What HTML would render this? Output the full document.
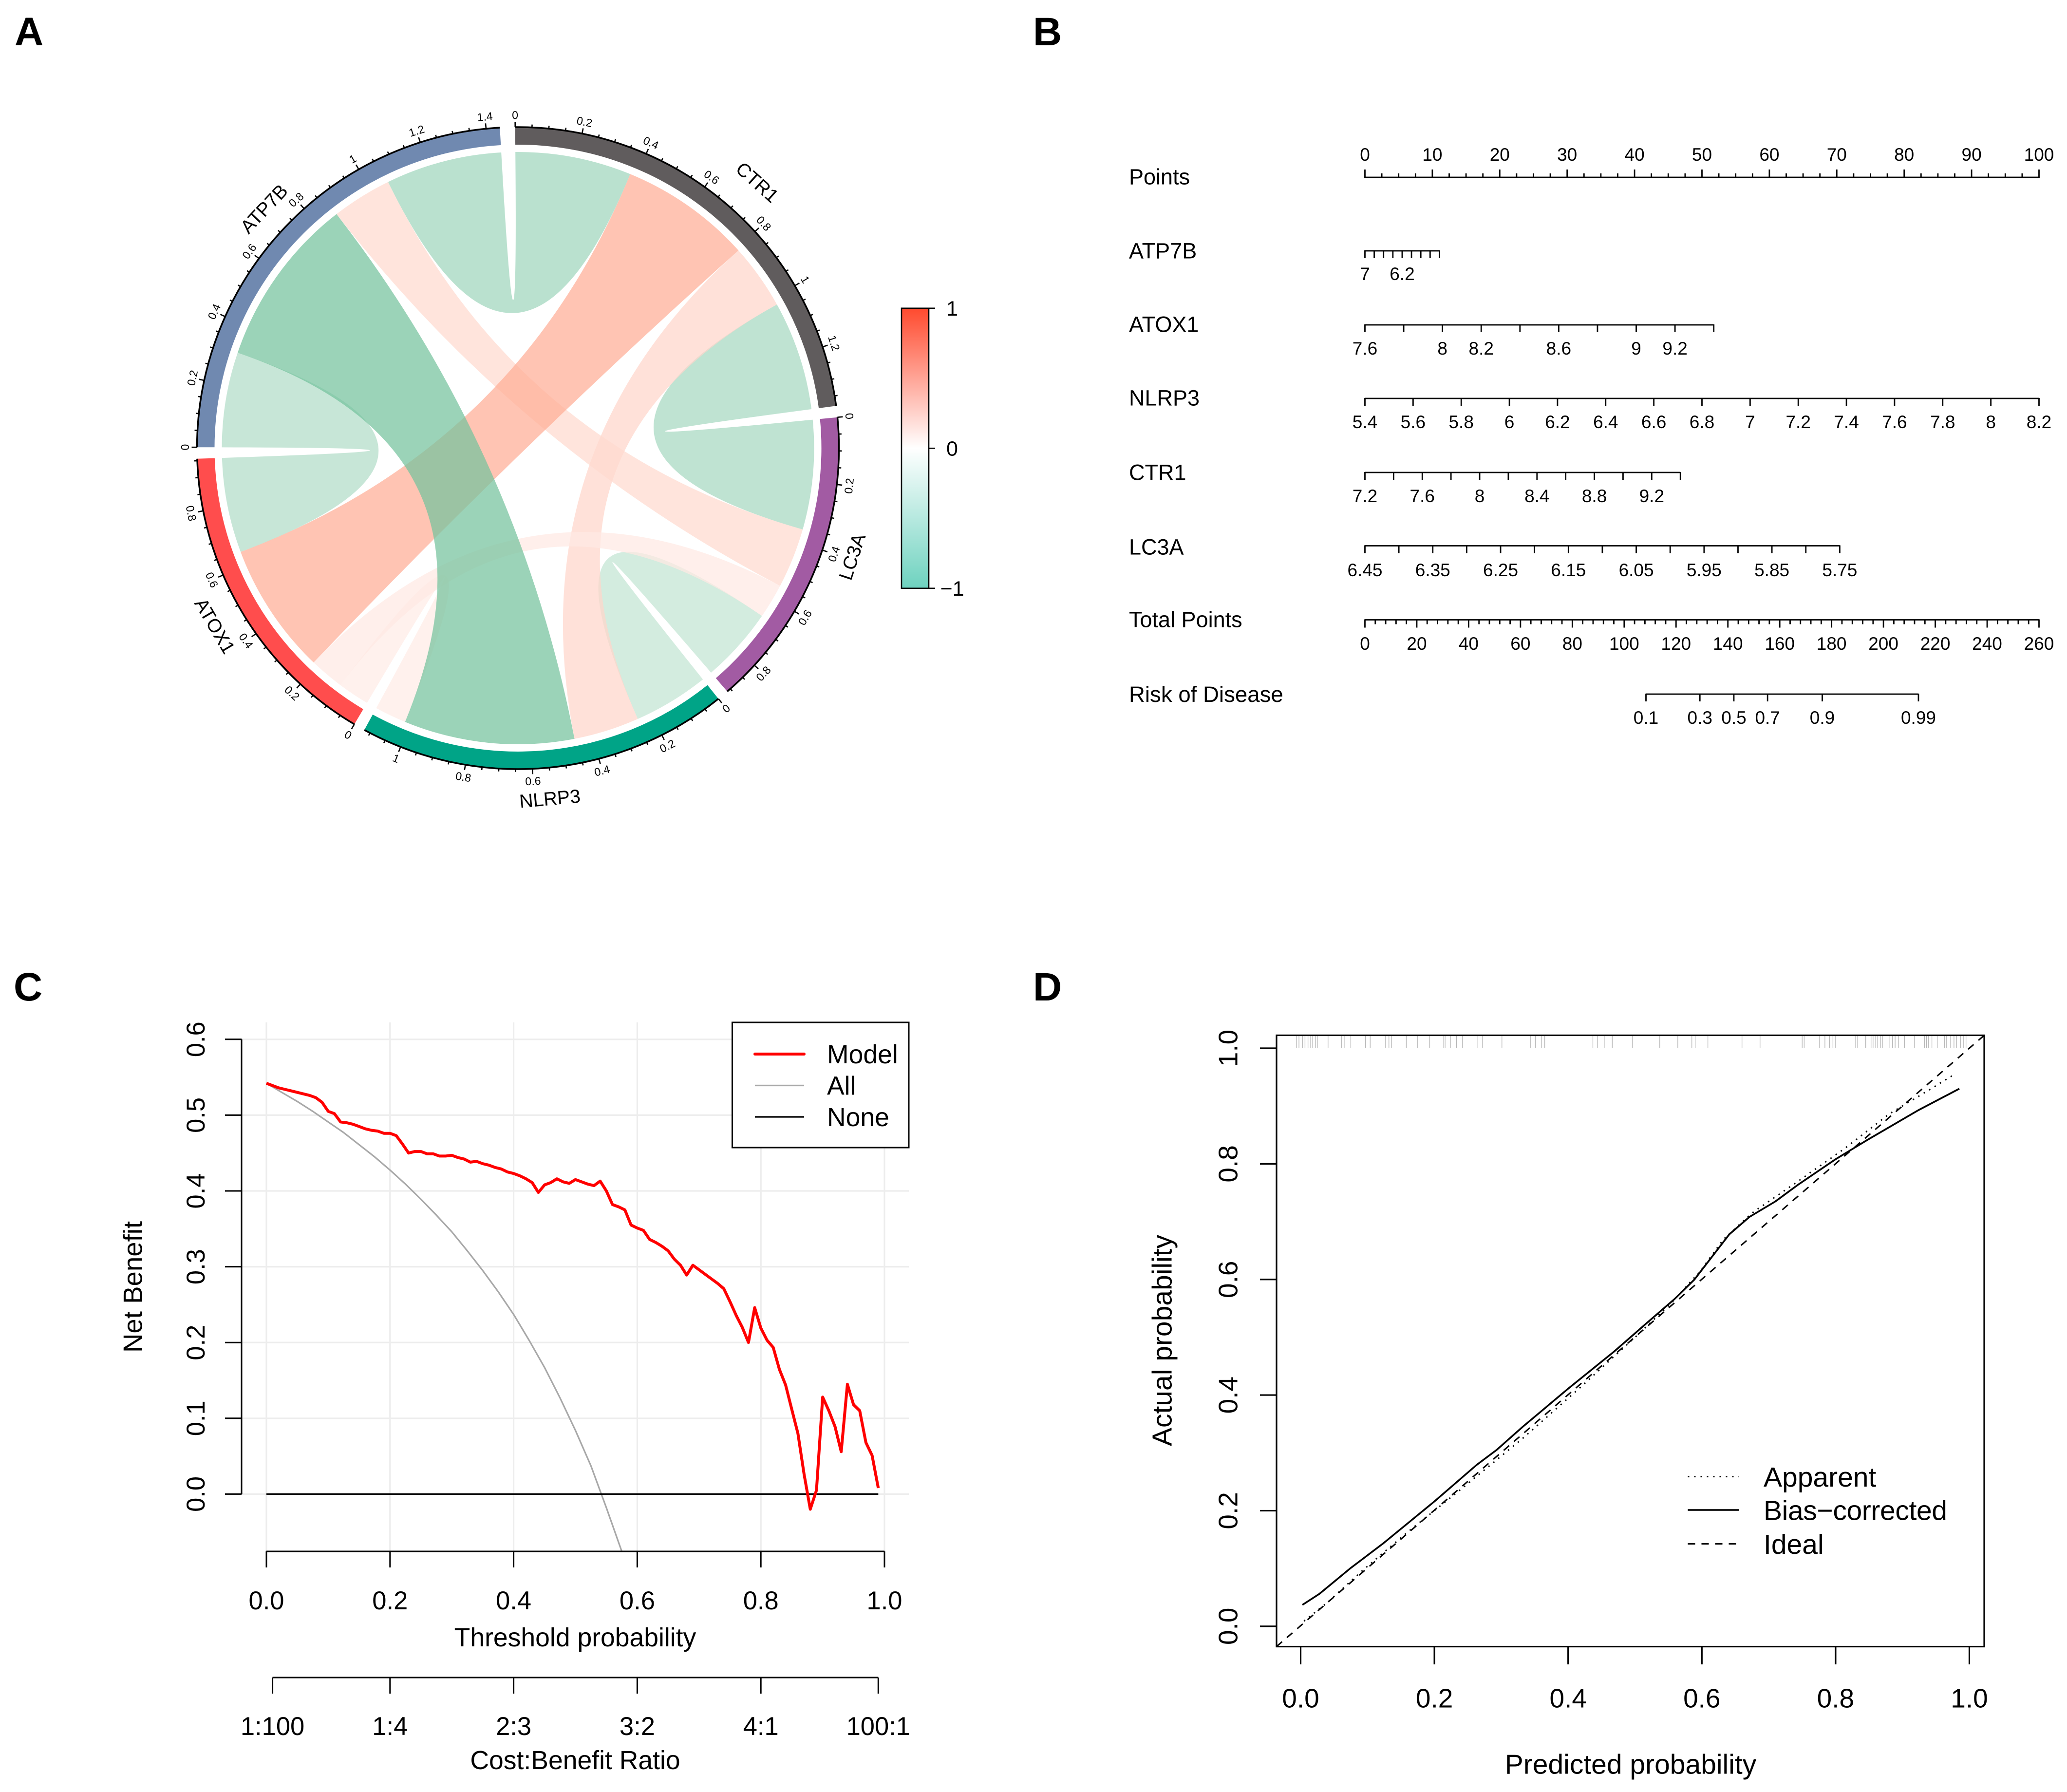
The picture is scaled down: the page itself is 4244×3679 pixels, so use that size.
<!DOCTYPE html>
<html lang="en">
<head>
<meta charset="utf-8">
<title>Gene panel figure</title>
<style>
html,body{margin:0;padding:0;background:#fff;}
svg{display:block;font-family:"Liberation Sans",Arial,sans-serif;}
</style>
</head>
<body>
<svg id="fig" xmlns="http://www.w3.org/2000/svg" width="4244" height="3679" viewBox="0 0 4244 3679">
  <rect x="0" y="0" width="4244" height="3679" fill="#fff"/>
  <defs>
    <linearGradient id="corrGrad" x1="0" y1="0" x2="0" y2="1">
      <stop offset="0" stop-color="#FF4A2E"/>
      <stop offset="0.5" stop-color="#FFFFFF"/>
      <stop offset="1" stop-color="#6ED2BF"/>
    </linearGradient>
  </defs>
  <text x="30" y="93" font-size="82" font-weight="700">A</text>
  <text x="2121" y="93" font-size="82" font-weight="700">B</text>
  <text x="28" y="2054" font-size="82" font-weight="700">C</text>
  <text x="2121" y="2054" font-size="82" font-weight="700">D</text>
  <g id="panelA"></g>
  <g id="panelB"></g>
  <g id="panelC"></g>
  <g id="panelD"></g>
</svg>
<script>
/* ---------- Panel A data ---------- */
const sectorNames = ['CTR1','LC3A','NLRP3','ATOX1','ATP7B'];
const sectorColors = ['#605C5D','#A25BA3','#00A487','#FF4D4D','#7089B0'];
const linkFrom = ['ATP7B','ATP7B','CTR1','LC3A','NLRP3','CTR1','LC3A','ATP7B','CTR1','ATP7B'];
const linkTo   = ['CTR1','ATOX1','LC3A','NLRP3','ATOX1','NLRP3','ATOX1','LC3A','ATOX1','NLRP3'];
const linkCorr = [-0.379,-0.31,-0.357,-0.246,0.103,0.214,0.113,0.196,0.43,-0.556];

/* ---------- Panel B data ---------- */
const atp7bTicks = [7,6.8,6.6,6.4,6.2,6,5.8,5.6,5.4];
const atp7bLabels = ['7','','','','6.2','','','',''];
const atox1Ticks = [7.6,7.8,8,8.2,8.4,8.6,8.8,9,9.2,9.4];
const atox1Labels = ['7.6','','8','8.2','','8.6','','9','9.2',''];
const nlrp3Ticks = [5.4,5.6,5.8,6,6.2,6.4,6.6,6.8,7,7.2,7.4,7.6,7.8,8,8.2];
const nlrp3Labels = ['5.4','5.6','5.8','6','6.2','6.4','6.6','6.8','7','7.2','7.4','7.6','7.8','8','8.2'];
const ctr1Ticks = [7.2,7.4,7.6,7.8,8,8.2,8.4,8.6,8.8,9,9.2,9.4];
const ctr1Labels = ['7.2','','7.6','','8','','8.4','','8.8','','9.2',''];
const lc3aTicks = [6.45,6.4,6.35,6.3,6.25,6.2,6.15,6.1,6.05,6,5.95,5.9,5.85,5.8,5.75];
const lc3aLabels = ['6.45','','6.35','','6.25','','6.15','','6.05','','5.95','','5.85','','5.75'];
const geneMaxPoints = [11.05,51.75,100,46.8,70.44];
const pointsLabels = ['0','10','20','30','40','50','60','70','80','90','100'];
const totalLabels = ['0','20','40','60','80','100','120','140','160','180','200','220','240','260'];
const riskLabels = ['0.1','0.3','0.5','0.7','0.9','0.99'];
const riskTotalPoints = [108.4,129.2,142.3,155.3,176.4,213.5];

/* ---------- Panel C data ---------- */
const modelThreshold = [0,.01,.02,.03,.04,.05,.06,.07,.08,.09,.10,.11,.12,.13,.14,.15,.16,.17,.18,.19,.20,.21,.22,.23,.24,.25,.26,.27,.28,.29,.30,.31,.32,.33,.34,.35,.36,.37,.38,.39,.40,.41,.42,.43,.44,.45,.46,.47,.48,.49,.50,.51,.52,.53,.54,.55,.56,.57,.58,.59,.60,.61,.62,.63,.64,.65,.66,.67,.68,.69,.70,.71,.72,.73,.74,.75,.76,.77,.78,.79,.80,.81,.82,.83,.84,.85,.86,.87,.88,.89,.90,.91,.92,.93,.94,.95,.96,.97,.98,.99];
const modelBenefit = [.542,.539,.536,.534,.532,.530,.528,.526,.523,.517,.505,.502,.491,.490,.488,.485,.482,.480,.479,.476,.476,.473,.462,.450,.452,.452,.449,.449,.446,.446,.447,.444,.442,.438,.439,.436,.434,.431,.429,.425,.423,.420,.416,.411,.398,.408,.411,.416,.412,.410,.415,.412,.409,.407,.413,.400,.382,.379,.375,.355,.351,.348,.336,.332,.327,.321,.310,.302,.289,.302,.296,.290,.284,.278,.271,.254,.236,.220,.200,.246,.219,.203,.1935,.1645,.144,.112,.080,.026,-.020,.005,.128,.110,.089,.056,.145,.118,.110,.068,.051,.008];
const allThreshold = [0,.025,.05,.075,.1,.125,.15,.175,.2,.225,.25,.275,.3,.325,.35,.375,.4,.425,.45,.475,.5,.525,.55,.575];
const allBenefit = [.542,.530,.518,.505,.491,.477,.461,.445,.4275,.409,.389,.368,.346,.321,.295,.267,.237,.203,.167,.127,.084,.0375,-.018,-.0757];
const noneThreshold = [0,.99];
const noneBenefit = [0,0];
const decisionXTicks = [0,.2,.4,.6,.8,1];
const decisionXLabels = ['0.0','0.2','0.4','0.6','0.8','1.0'];
const decisionYTicks = [0,.1,.2,.3,.4,.5,.6];
const decisionYLabels = ['0.0','0.1','0.2','0.3','0.4','0.5','0.6'];
const costTicks = [.0099,.2,.4,.6,.8,.99];
const costLabels = ['1:100','1:4','2:3','3:2','4:1','100:1'];

/* ---------- Panel D data ---------- */
const biasPredicted = [.0026,.028,.074,.123,.200,.263,.293,.332,.400,.469,.516,.559,.589,.615,.641,.671,.710,.744,.800,.847,.924,.967,.985];
const biasActual = [.037,.056,.100,.143,.216,.279,.305,.345,.411,.4755,.523,.566,.600,.639,.678,.708,.735,.764,.808,.841,.893,.919,.930];
const apparentPredicted = [.005,.040,.091,.160,.246,.332,.418,.503,.555,.598,.632,.675,.744,.813,.881,.933,.978];
const apparentActual = [.009,.041,.095,.163,.243,.325,.413,.503,.560,.615,.669,.715,.770,.826,.887,.923,.955];
const idealPredicted = [-.036,1.022];
const idealActual = [-.035,1.022];
const rugPredicted = [-.006,-.0025,.003,.0065,.011,.015,.018,.022,.025,.041,.061,.066,.075,.097,.104,.127,.132,.136,.158,.175,.193,.214,.216,.224,.233,.242,.265,.272,.301,.344,.351,.360,.365,.437,.444,.454,.466,.496,.537,.564,.585,.590,.609,.660,.687,.750,.753,.776,.784,.791,.796,.800,.830,.833,.845,.853,.856,.860,.863,.867,.870,.880,.885,.889,.894,.903,.918,.933,.936,.939,.944,.952,.963,.966,.972,.977,.981,.987,.991,.995];
const calTicks = [0,.2,.4,.6,.8,1];
const calLabels = ['0.0','0.2','0.4','0.6','0.8','1.0'];

/* ---------- Helpers ---------- */
const NS = 'http://www.w3.org/2000/svg';
function line(parent, x1, y1, x2, y2, width, color, name) {
  const el = document.createElementNS(NS, 'line');
  
  
  el.setAttribute('x1', x1);
  el.setAttribute('y1', y1);
  el.setAttribute('x2', x2);
  el.setAttribute('y2', y2);
  el.setAttribute('stroke', color);
  el.setAttribute('stroke-width', width);
  parent.appendChild(el);
  return el;
}
function path(parent, d, fill, stroke, width, name) {
  const el = document.createElementNS(NS, 'path');
  
  
  el.setAttribute('d', d);
  el.setAttribute('fill', fill);
  if (stroke) {
    el.setAttribute('stroke', stroke);
    el.setAttribute('stroke-width', width);
    el.setAttribute('stroke-linejoin', 'round');
  }
  parent.appendChild(el);
  return el;
}
function text(parent, str, x, cy, size, name, anchor, rot) {
  const el = document.createElementNS(NS, 'text');
  
  
  el.setAttribute('x', x);
  el.setAttribute('y', cy + 0.358 * size);
  el.setAttribute('font-size', size);
  el.setAttribute('text-anchor', anchor || 'middle');
  if (rot) el.setAttribute('transform', 'rotate(' + rot + ' ' + x + ' ' + cy + ')');
  el.textContent = str;
  parent.appendChild(el);
  return el;
}
function polyPath(xs, ys, sx, sy) {
  return xs.map((v, i) => (i ? 'L' : 'M') + sx(v).toFixed(1) + ' ' + sy(ys[i]).toFixed(1)).join(' ');
}

/* ---------- Panel A ---------- */
(function () {
  const g = document.getElementById('panelA');
  const cx = 1063.5, cy = 920, rOut = 659, rIn = 623, rLink = 608;
  const degPerUnit = 60.1, gapDeg = 2.05, startDeg = -0.5;
  const pol = (t, r) => {
    const a = t * Math.PI / 180;
    return [cx + r * Math.sin(a), cy - r * Math.cos(a)];
  };
  const arc = (t1, t2, r) => {
    const p = pol(t2, r);
    return 'A' + r + ' ' + r + ' 0 ' + (t2 - t1 > 180 ? 1 : 0) + ' 1 ' + p[0].toFixed(2) + ' ' + p[1].toFixed(2);
  };
  const corrOf = (a, b) => {
    for (let i = 0; i < linkCorr.length; i++) {
      if ((linkFrom[i] === a && linkTo[i] === b) || (linkFrom[i] === b && linkTo[i] === a)) return linkCorr[i];
    }
    return 0;
  };
  const n = sectorNames.length;
  const ranges = {}, spans = [];
  let cur = startDeg;
  sectorNames.forEach((name, i) => {
    const start = cur;
    ranges[name] = {};
    for (let k = 1; k < n; k++) {
      const other = sectorNames[(i - k + n) % n];
      const w = Math.abs(corrOf(name, other)) * degPerUnit;
      ranges[name][other] = [cur, cur + w];
      cur += w;
    }
    spans.push([start, cur]);
    cur += gapDeg;
  });

  const alpha = 0.72;
  const colorOf = c => {
    const t = Math.abs(c);
    const drop = c < 0 ? [180, 79, 128] : [0, 137, 177];
    const rgb = drop.map(d => Math.round(255 - d * t / alpha));
    return 'rgb(' + rgb.join(',') + ')';
  };

  const links = document.createElementNS(NS, 'g');
  
  
  g.appendChild(links);
  linkCorr.forEach((c, i) => {
    const ra = ranges[linkFrom[i]][linkTo[i]];
    const rb = ranges[linkTo[i]][linkFrom[i]];
    const a1 = pol(ra[0], rLink), b1 = pol(rb[0], rLink);
    const d = 'M' + a1[0].toFixed(2) + ' ' + a1[1].toFixed(2) + ' ' + arc(ra[0], ra[1], rLink) +
      ' Q' + cx + ' ' + cy + ' ' + b1[0].toFixed(2) + ' ' + b1[1].toFixed(2) + ' ' + arc(rb[0], rb[1], rLink) +
      ' Q' + cx + ' ' + cy + ' ' + a1[0].toFixed(2) + ' ' + a1[1].toFixed(2) + ' Z';
    const p = path(links, d, colorOf(c), null, 0, 'chord-' + linkFrom[i].toLowerCase() + '-' + linkTo[i].toLowerCase());
    p.setAttribute('fill-opacity', alpha);
  });

  const nameAnchor = {CTR1:[42,735], LC3A:[108,721], NLRP3:[174.8,722], ATOX1:[239.6,721], ATP7B:[313.3,717]};
  sectorNames.forEach((name, i) => {
    const low = name.toLowerCase();
    const s = spans[i];
    const a = pol(s[0], rOut), b = pol(s[1], rIn);
    const a2 = pol(s[0], rIn);
    const d = 'M' + a[0] + ' ' + a[1] + ' ' + arc(s[0], s[1], rOut) + ' L' + b[0] + ' ' + b[1] +
      ' A' + rIn + ' ' + rIn + ' 0 0 0 ' + a2[0] + ' ' + a2[1] + ' Z';
    path(g, d, sectorColors[i], null, 0, 'track-' + low);
    path(g, 'M' + a[0] + ' ' + a[1] + ' ' + arc(s[0], s[1], rOut), 'none', '#000', 3.5, 'axis-arc-' + low);
    const len = (s[1] - s[0]) / degPerUnit;
    for (let k = 0; k * 0.05 <= len + 1e-9; k++) {
      const v = k * 0.05;
      const t = s[0] + v * degPerUnit;
      const major = k % 4 === 0;
      const p1 = pol(t, rOut), p2 = pol(t, rOut + (major ? 11 : 6));
      line(g, p1[0], p1[1], p2[0], p2[1], 2.6, '#000', 'axis-tick-' + low);
      if (major) {
        const lp = pol(t, 684);
        const nt = (t + 360) % 360;
        const rot = (nt <= 90 || nt >= 270) ? t : t - 180;
        text(g, String(parseFloat(v.toFixed(2))), lp[0], lp[1], 23, 'axis-label-' + low, 'middle', rot);
      }
    }
    const na = nameAnchor[name];
    const np = pol(na[0], na[1]);
    const nt = (na[0] + 360) % 360;
    const rot = (nt <= 90 || nt >= 270) ? na[0] - (na[0] > 180 ? 360 : 0) : na[0] - 180;
    text(g, name, np[0], np[1], 39, 'sector-name-' + low, 'middle', rot);
  });

  /* colour legend */
  const legendTicks = [1, 0, -1];
  const legendLabels = ['1', '0', '\u22121'];
  const yLeg = v => 920.3 - 287.5 * v;
  const bar = document.createElementNS(NS, 'rect');
  
  
  bar.setAttribute('x', 1851);
  bar.setAttribute('y', yLeg(1));
  bar.setAttribute('width', 56);
  bar.setAttribute('height', yLeg(-1) - yLeg(1));
  bar.setAttribute('fill', 'url(#corrGrad)');
  bar.setAttribute('stroke', '#000');
  bar.setAttribute('stroke-width', 2.6);
  g.appendChild(bar);
  legendTicks.forEach((v, i) => {
    line(g, 1907, yLeg(v), 1920, yLeg(v), 2.6, '#000', 'colorbar-tick');
    text(g, legendLabels[i], 1955, yLeg(v), 43, 'colorbar-label');
  });
})();

/* ---------- Panel B ---------- */
(function () {
  const g = document.getElementById('panelB');
  const xP = pts => 2802.5 + 13.84 * pts;
  const xT = tp => xP(tp * 100 / 260);
  const LW = 2.8, tickFont = 37, nameFont = 45;

  /* points axis */
  const yPts = 364;
  text(g, 'Points', 2318, 362.5, nameFont, 'row-label-points', 'start');
  line(g, xP(0), yPts, xP(100), yPts, LW, '#000', 'points-axis-line');
  for (let k = 0; k <= 40; k++) {
    const major = k % 4 === 0;
    line(g, xP(k * 2.5), yPts + 1, xP(k * 2.5), yPts - (major ? 16 : 8), LW, '#000', 'points-axis-tick');
  }
  pointsLabels.forEach((s, i) => text(g, s, xP(i * 10), 317, tickFont, 'points-axis-label'));

  /* gene rows */
  function geneRow(name, y, labelY, textY, ticks, labels, maxPts) {
    const low = name.toLowerCase();
    text(g, name, 2318, labelY, nameFont, 'row-label-' + low, 'start');
    const v0 = ticks[0], v1 = ticks[ticks.length - 1];
    const x = v => xP((v - v0) / (v1 - v0) * maxPts);
    line(g, x(v0), y, x(v1), y, LW, '#000', low + '-axis-line');
    ticks.forEach((v, i) => {
      line(g, x(v), y - 1, x(v), y + 15, LW, '#000', low + '-axis-tick');
      if (labels[i]) text(g, labels[i], x(v), textY, tickFont, low + '-axis-label');
    });
  }
  geneRow('ATP7B', 515, 514.5, 562, atp7bTicks, atp7bLabels, geneMaxPoints[0]);
  geneRow('ATOX1', 667, 665.5, 715, atox1Ticks, atox1Labels, geneMaxPoints[1]);
  geneRow('NLRP3', 818, 816.5, 866, nlrp3Ticks, nlrp3Labels, geneMaxPoints[2]);
  geneRow('CTR1', 970, 969.5, 1018, ctr1Ticks, ctr1Labels, geneMaxPoints[3]);
  geneRow('LC3A', 1120.5, 1122.5, 1170, lc3aTicks, lc3aLabels, geneMaxPoints[4]);

  /* total points */
  const yTot = 1272.5;
  text(g, 'Total Points', 2318, 1271.5, nameFont, 'row-label-total-points', 'start');
  line(g, xT(0), yTot, xT(260), yTot, LW, '#000', 'total-points-axis-line');
  for (let k = 0; k <= 65; k++) {
    const major = k % 5 === 0;
    line(g, xT(k * 4), yTot - 1, xT(k * 4), yTot + (major ? 16 : 9), LW, '#000', 'total-points-axis-tick');
  }
  totalLabels.forEach((s, i) => text(g, s, xT(i * 20), 1321, tickFont, 'total-points-axis-label'));

  /* risk */
  const yRisk = 1425;
  text(g, 'Risk of Disease', 2318, 1424.5, 45.6, 'row-label-risk-of-disease', 'start');
  const last = riskTotalPoints.length - 1;
  line(g, xT(riskTotalPoints[0]), yRisk, xT(riskTotalPoints[last]), yRisk, LW, '#000', 'risk-axis-line');
  riskTotalPoints.forEach((tp, i) => {
    line(g, xT(tp), yRisk - 1, xT(tp), yRisk + 15, LW, '#000', 'risk-axis-tick');
    text(g, riskLabels[i], xT(tp), 1473, tickFont, 'risk-axis-label');
  });
})();

/* ---------- Panel C ---------- */
(function () {
  const g = document.getElementById('panelC');
  const x = p => 547 + 1269 * p;
  const y = v => 3067.4 - 1556 * v;
  const F = 52.5;
  decisionXTicks.forEach(p => line(g, x(p), 2099, x(p), 3185, 3.2, '#EDEDED', 'grid-line-vertical'));
  decisionYTicks.forEach(v => line(g, 496, y(v), 1866, y(v), 3.2, '#EDEDED', 'grid-line-horizontal'));

  path(g, polyPath(allThreshold, allBenefit, x, y), 'none', '#A8A8A8', 3.2, 'series-all');
  path(g, polyPath(noneThreshold, noneBenefit, x, y), 'none', '#000', 3.2, 'series-none');
  path(g, polyPath(modelThreshold, modelBenefit, x, y), 'none', '#FF0000', 6, 'series-model');

  /* y axis */
  line(g, 496, y(0.6), 496, y(0), 3, '#000', 'y-axis-line');
  decisionYTicks.forEach((v, i) => {
    line(g, 462, y(v), 496, y(v), 3, '#000', 'y-axis-tick');
    text(g, decisionYLabels[i], 401, y(v), F, 'y-axis-label', 'middle', -90);
  });
  text(g, 'Net Benefit', 272, 2642, 54.6, 'y-axis-title', 'middle', -90);

  /* threshold axis */
  line(g, x(0), 3185, x(1), 3185, 3, '#000', 'x-axis-line');
  decisionXTicks.forEach((p, i) => {
    line(g, x(p), 3185, x(p), 3218, 3, '#000', 'x-axis-tick');
    text(g, decisionXLabels[i], x(p), 3285, F, 'x-axis-label');
  });
  text(g, 'Threshold probability', 1181, 3361, 53.5, 'x-axis-title');

  /* cost:benefit axis */
  line(g, x(costTicks[0]), 3444, x(costTicks[5]), 3444, 3, '#000', 'cost-axis-line');
  costTicks.forEach((p, i) => {
    line(g, x(p), 3444, x(p), 3477, 3, '#000', 'cost-axis-tick');
    text(g, costLabels[i], x(p), 3543, F, 'cost-axis-label');
  });
  text(g, 'Cost:Benefit Ratio', 1181, 3613, 53.5, 'cost-axis-title');

  /* legend */
  const box = document.createElementNS(NS, 'rect');
  
  
  box.setAttribute('x', 1503.5);
  box.setAttribute('y', 2099);
  box.setAttribute('width', 362.5);
  box.setAttribute('height', 257);
  box.setAttribute('fill', '#fff');
  box.setAttribute('stroke', '#000');
  box.setAttribute('stroke-width', 3);
  g.appendChild(box);
  line(g, 1550, 2164, 1651, 2164, 6, '#FF0000', 'legend-line-model').setAttribute('stroke-linecap', 'round');
  text(g, 'Model', 1698, 2164, 53.5, 'legend-entry-model', 'start');
  line(g, 1550, 2228.5, 1651, 2228.5, 3.2, '#A8A8A8', 'legend-line-all');
  text(g, 'All', 1698, 2228.5, 53.5, 'legend-entry-all', 'start');
  line(g, 1550, 2293, 1651, 2293, 3.2, '#000', 'legend-line-none');
  text(g, 'None', 1698, 2293, 53.5, 'legend-entry-none', 'start');
})();

/* ---------- Panel D ---------- */
(function () {
  const g = document.getElementById('panelD');
  const x = p => 2670.5 + 1373 * p;
  const y = v => 3338.8 - 1186.8 * v;
  const F = 55;

  rugPredicted.forEach(p => line(g, x(p), 2127, x(p), 2151, 1.3, '#B5B5B5', 'rug-mark'));

  path(g, polyPath(idealPredicted, idealActual, x, y), 'none', '#000', 3, 'series-ideal').setAttribute('stroke-dasharray', '15 13');
  path(g, polyPath(apparentPredicted, apparentActual, x, y), 'none', '#000', 3, 'series-apparent').setAttribute('stroke-dasharray', '3 10');
  path(g, polyPath(biasPredicted, biasActual, x, y), 'none', '#000', 3.6, 'series-bias-corrected');

  const box = document.createElementNS(NS, 'rect');
  
  
  box.setAttribute('x', 2621);
  box.setAttribute('y', 2125.5);
  box.setAttribute('width', 1453);
  box.setAttribute('height', 1255);
  box.setAttribute('fill', 'none');
  box.setAttribute('stroke', '#000');
  box.setAttribute('stroke-width', 3.2);
  g.appendChild(box);

  calTicks.forEach((p, i) => {
    line(g, x(p), 3380.5, x(p), 3417, 3.2, '#000', 'x-axis-tick');
    text(g, calLabels[i], x(p), 3486, F, 'x-axis-label');
    line(g, 2587, y(p), 2621, y(p), 3.2, '#000', 'y-axis-tick');
    text(g, calLabels[i], 2521, y(p), F, 'y-axis-label', 'middle', -90);
  });
  text(g, 'Predicted probability', 3348, 3621, 57, 'x-axis-title');
  text(g, 'Actual probability', 2385, 2752, 57, 'y-axis-title', 'middle', -90);

  line(g, 3465.5, 3031.5, 3570.5, 3031.5, 3, '#000', 'legend-line-apparent').setAttribute('stroke-dasharray', '3 10');
  text(g, 'Apparent', 3621, 3031.5, 57, 'legend-entry-apparent', 'start');
  line(g, 3465.5, 3100, 3570.5, 3100, 3.6, '#000', 'legend-line-bias-corrected');
  text(g, 'Bias\u2212corrected', 3621, 3100, 57, 'legend-entry-bias-corrected', 'start').setAttribute('textLength', '377');
  line(g, 3465.5, 3169.5, 3570.5, 3169.5, 3, '#000', 'legend-line-ideal').setAttribute('stroke-dasharray', '15 13');
  text(g, 'Ideal', 3621, 3169.5, 57, 'legend-entry-ideal', 'start');
})();
</script>
</body>
</html>
